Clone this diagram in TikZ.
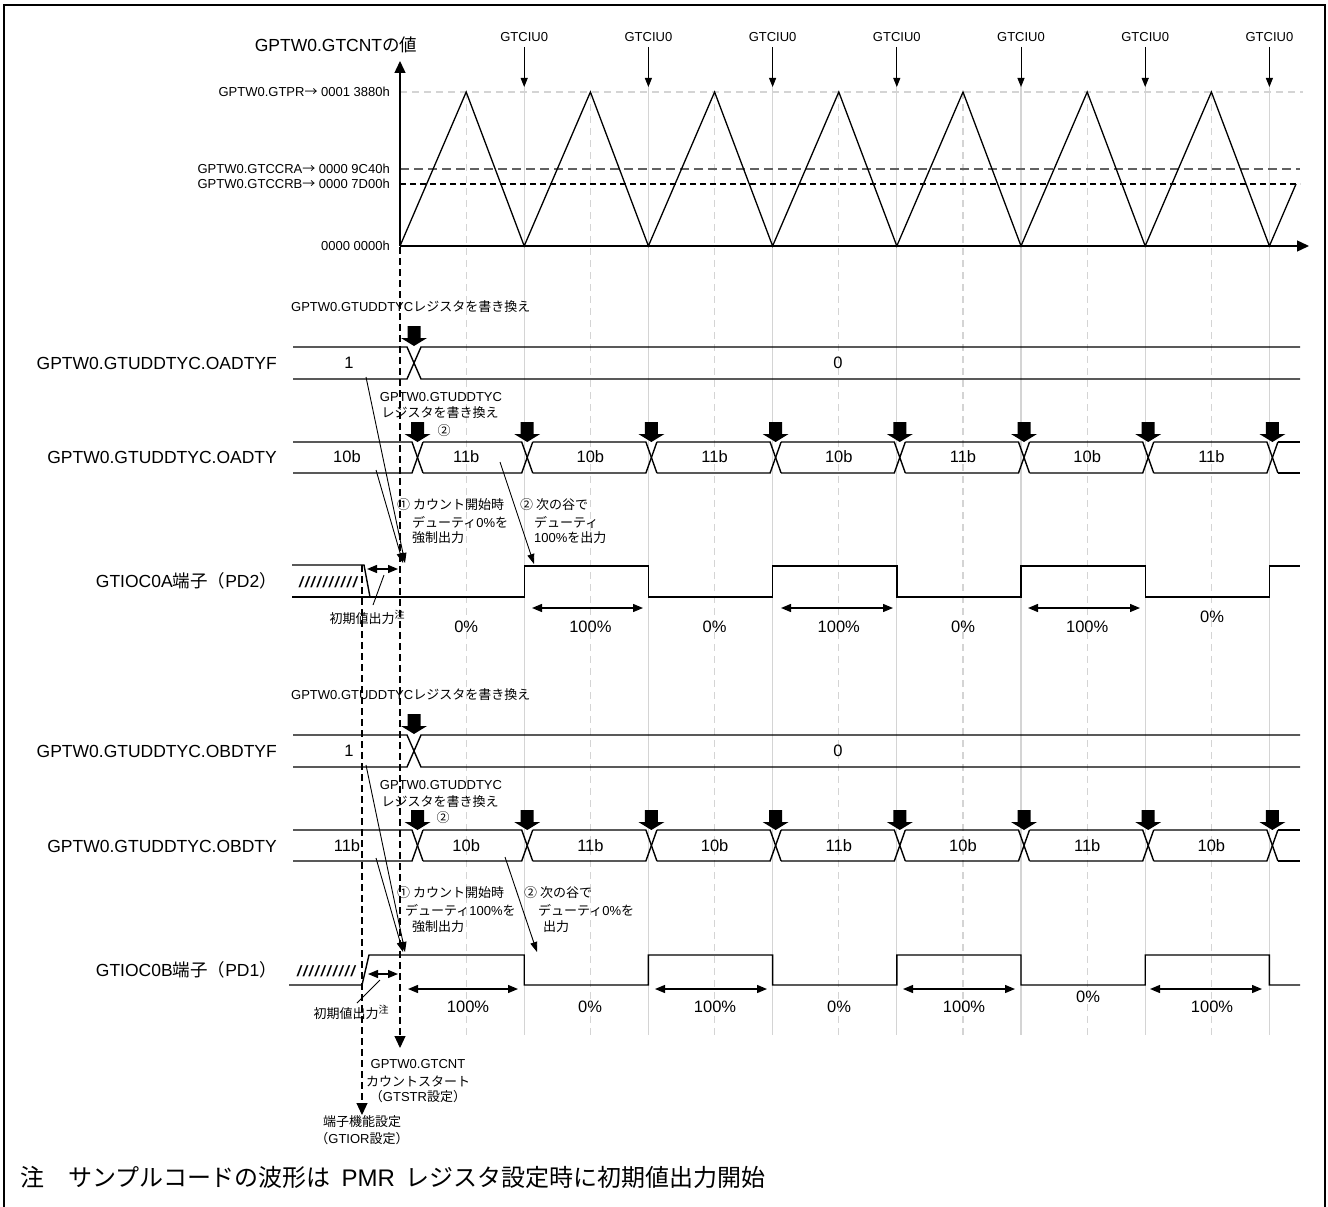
\documentclass[tikz,border=0pt]{standalone}
\usepackage{fontspec}
\setmainfont{Liberation Sans}
\newfontfamily\jpfont{Noto Sans CJK JP}
\newfontfamily\hatchfont[LetterSpace=12]{Liberation Sans}
\usetikzlibrary{arrows.meta}
\newcommand\J[1]{{\jpfont #1}}
\newcommand\fsz[1]{\fontsize{#1}{#1}\selectfont}
\tikzset{
  wave/.style={line width=1.4pt},
  tri/.style={line width=1.3pt},
  gridv/.style={line width=1.3pt, draw=black!17},
  gridd/.style={line width=1.3pt, draw=black!17, dash pattern=on 7pt off 5pt},
  bdash/.style={line width=1.1pt, dash pattern=on 7pt off 4pt},
  bigtip/.style={-{Triangle[length=12pt,width=11pt]}},
  ann/.style={line width=0.9pt, -{Triangle[length=10pt,width=7pt]}},
  leader/.style={line width=0.9pt},
  dbl/.style={line width=1.3pt, {Triangle[length=10pt,width=8pt]}-{Triangle[length=10pt,width=8pt]}},
  lbl/.style={inner sep=0pt, font=\fsz{13}},
  big/.style={inner sep=0pt, font=\fsz{17.5}},
  val/.style={inner sep=0pt, font=\fsz{16.5}},
  blk/.pic={\fill (0,0) -- (13,-8) -- (6.5,-8) -- (6.5,-20) -- (-6.5,-20) -- (-6.5,-8) -- (-13,-8) -- cycle;}
}
\newcommand\drawbus[4]{%
  \foreach \cx [remember=\cx as \px (initially 287.5)] in {#3} {
    \draw[wave] ({\px+5.5},#1) -- ({\cx-5.5},#1) -- ({\cx+5.5},#2);
    \draw[wave] ({\px+5.5},#2) -- ({\cx-5.5},#2) -- ({\cx+5.5},#1);
  }
  \draw[wave] ({#4+5.5},#1) -- (1300,#1);
  \draw[wave] ({#4+5.5},#2) -- (1300,#2);
}
\begin{document}
\begin{tikzpicture}[x=1pt,y=-1pt]
\useasboundingbox (0,0) rectangle (1328,1207);
\fill[white] (0,0) rectangle (1328,1207);
% frame
\draw[line width=2.5pt] (4,1207) -- (4,5) -- (1325,5) -- (1325,1207);

% light grid verticals
\foreach \i in {1,...,7} {
  \pgfmathsetmacro\vx{400+124.2*\i}
  \pgfmathsetmacro\pk{\vx-58}
  \draw[gridv] (\vx,86) -- (\vx,1035);
  \draw[gridd] (\pk,92) -- (\pk,1035);
}

% levels
\draw[gridd] (400,92) -- (1303,92);
\draw[line width=1.6pt, draw=black!62, dash pattern=on 9pt off 5pt] (400,169) -- (1300,169);
\draw[line width=1.1pt, dash pattern=on 6pt off 4pt] (400,184) -- (1300,184);

% counter triangle
\draw[tri] (400,246) -- (466.2,92) -- (524.2,246) -- (590.4,92) -- (648.4,246) -- (714.6,92) -- (772.6,246) -- (838.8,92) -- (896.8,246) -- (963,92) -- (1021,246) -- (1087.2,92) -- (1145.2,246) -- (1211.4,92) -- (1269.4,246) -- (1296,184);

% axes
\coordinate (O) at (400,246);
\coordinate (xend) at (1309,246);
\coordinate (yend) at (400,61);
\draw[line width=1.4pt, bigtip] (O) -- (xend);
\draw[line width=1.4pt, bigtip] (O) -- (yend);
\node[inner sep=0pt, font=\fsz{17.5}] (title) at (336,45) {GPTW0.GTCNT\J{の値}};

% GTCIU0 markers
\foreach \i in {1,...,7} {
  \pgfmathsetmacro\vx{400+124.2*\i}
  \node[lbl] (ciu\i) at (\vx,37) {GTCIU0};
  \coordinate (ct\i) at (\vx,87);
  \draw[line width=1pt, -{Triangle[length=9pt,width=7pt]}, shorten <=5pt] (ciu\i) -- (ct\i);
}

% level labels
\node[lbl, anchor=east] (lpr) at (390,92) {GPTW0.GTPR\J{→} 0001 3880h};
\node[lbl, anchor=east] (lca) at (390,169) {GPTW0.GTCCRA\J{→} 0000 9C40h};
\node[lbl, anchor=east] (lcb) at (390,184) {GPTW0.GTCCRB\J{→} 0000 7D00h};
\node[lbl, anchor=east] (lz) at (390,246) {0000 0000h};

% start / pin-setting dashed lines
\coordinate (cs0) at (400,247);
\coordinate (cs1) at (400,1048);
\coordinate (pn0) at (362,565);
\coordinate (pn1) at (362,1115);
\draw[bdash, bigtip] (cs0) -- (cs1);
\draw[bdash, bigtip] (pn0) -- (pn1);

% row labels
\node[big, anchor=east] (rOADTYF) at (277,363) {GPTW0.GTUDDTYC.OADTYF};
\node[big, anchor=east] (rOADTY) at (277,457) {GPTW0.GTUDDTYC.OADTY};
\node[big, anchor=east] (rGA) at (277,581) {GTIOC0A\J{端子（}PD2\J{）}};
\node[big, anchor=east] (rOBDTYF) at (277,751) {GPTW0.GTUDDTYC.OBDTYF};
\node[big, anchor=east] (rOBDTY) at (277,846) {GPTW0.GTUDDTYC.OBDTY};
\node[big, anchor=east] (rGB) at (277,970) {GTIOC0B\J{端子（}PD1\J{）}};

% write labels
\node[lbl, anchor=west] (wA) at (291,307) {GPTW0.GTUDDTYC\J{レジスタを書き換え}};
\node[lbl, anchor=west] (wB) at (291,695) {GPTW0.GTUDDTYC\J{レジスタを書き換え}};

% ---------- section A ----------
\draw[wave] (293,347) -- (407,347) -- (421,379) -- (1300,379);
\draw[wave] (293,379) -- (407,379) -- (421,347) -- (1300,347);
\pic (bA0) at (414,346) {blk};
\node[val] (vA1) at (349,363) {1};
\node[val] (vA0) at (838,363) {0};

\node[lbl] (mA1) at (441,397) {GPTW0.GTUDDTYC};
\node[lbl] (mA2) at (440,413) {\J{レジスタを書き換え}};
\node[lbl] (cA) at (444,431) {\J{②}};

\drawbus{442}{473}{417.5,527.2,651.4,775.6,899.8,1024,1148.2,1272.4}{1272.4}
\foreach \c [count=\k] in {417.5,527.2,651.4,775.6,899.8,1024,1148.2,1272.4} {\pic (bA\k) at (\c,442) {blk};}
\node[val] (dA0) at (347,457) {10b};
\foreach \c/\t [count=\k] in {466.2/11b,590.4/10b,714.6/11b,838.8/10b,963/11b,1087.2/10b,1211.4/11b} {\node[val] (dA\k) at (\c,457) {\t};}

\node[lbl, anchor=west] (nA1) at (397,505) {\J{① カウント開始時}};
\node[lbl, anchor=west] (nA2) at (412,522) {\J{デューティ}0\%\J{を}};
\node[lbl, anchor=west] (nA3) at (412,538) {\J{強制出力}};
\node[lbl, anchor=west] (nA4) at (520,505) {\J{② 次の谷で}};
\node[lbl, anchor=west] (nA5) at (534,522) {\J{デューティ}};
\node[lbl, anchor=west] (nA6) at (534,538) {100\%\J{を出力}};

\coordinate (a1s) at (366,377); \coordinate (a1e) at (405,563);
\coordinate (a2s) at (376,470); \coordinate (a2e) at (403,563);
\coordinate (a3s) at (500,462); \coordinate (a3e) at (534,564);
\draw[ann] (a1s) -- (a1e);
\draw[ann] (a2s) -- (a2e);
\draw[ann] (a3s) -- (a3e);

\draw[wave] (292,565) -- (364,565) -- (370,597);
\draw[wave] (292,597) -- (524.2,597) -- (524.2,566) -- (648.4,566) -- (648.4,597) -- (772.6,597) -- (772.6,566) -- (896.8,566) -- (896.8,597) -- (1021,597) -- (1021,566) -- (1145.2,566) -- (1145.2,597) -- (1269.4,597) -- (1269.4,566) -- (1300,566);
\node[inner sep=0pt, font=\fsz{15}\hatchfont\bfseries\itshape] (hA) at (328,582) {//////////};
\coordinate (iA0) at (367,569); \coordinate (iA1) at (398,569);
\draw[dbl] (iA0) -- (iA1);
\coordinate (lA0) at (384,575); \coordinate (lA1) at (373,605);
\draw[leader] (lA0) -- (lA1);
\node[lbl] (iniA) at (367,617) {\J{初期値出力}\raisebox{5pt}{\fsz{10}\J{注}}};

\foreach \a/\b [count=\k] in {532/643,781/893,1028/1140} {
  \coordinate (pA\k l) at (\a,608); \coordinate (pA\k r) at (\b,608);
  \draw[dbl] (pA\k l) -- (pA\k r);
}
\foreach \c/\t [count=\k] in {466.2/0,590.4/100,714.6/0,838.8/100,963/0,1087.2/100} {\node[val] (qA\k) at (\c,627) {\t\%};}
\node[val] (qA7) at (1212,617) {0\%};

% ---------- section B ----------
\draw[wave] (293,735) -- (407,735) -- (421,767) -- (1300,767);
\draw[wave] (293,767) -- (407,767) -- (421,735) -- (1300,735);
\pic (bB0) at (414,734) {blk};
\node[val] (vB1) at (349,751) {1};
\node[val] (vB0) at (838,751) {0};

\node[lbl] (mB1) at (441,785) {GPTW0.GTUDDTYC};
\node[lbl] (mB2) at (440,802) {\J{レジスタを書き換え}};
\node[lbl] (cB) at (443,818) {\J{②}};

\drawbus{830}{861}{417.5,527.2,651.4,775.6,899.8,1024,1148.2,1272.4}{1272.4}
\foreach \c [count=\k] in {417.5,527.2,651.4,775.6,899.8,1024,1148.2,1272.4} {\pic (bB\k) at (\c,830) {blk};}
\node[val] (dB0) at (347,846) {11b};
\foreach \c/\t [count=\k] in {466.2/10b,590.4/11b,714.6/10b,838.8/11b,963/10b,1087.2/11b,1211.4/10b} {\node[val] (dB\k) at (\c,846) {\t};}

\node[lbl, anchor=west] (nB1) at (397,893) {\J{① カウント開始時}};
\node[lbl, anchor=west] (nB2) at (405,910) {\J{デューティ}100\%\J{を}};
\node[lbl, anchor=west] (nB3) at (412,927) {\J{強制出力}};
\node[lbl, anchor=west] (nB4) at (524,893) {\J{② 次の谷で}};
\node[lbl, anchor=west] (nB5) at (538,910) {\J{デューティ}0\%\J{を}};
\node[lbl, anchor=west] (nB6) at (543,927) {\J{出力}};

\coordinate (b1s) at (366,765); \coordinate (b1e) at (405,952);
\coordinate (b2s) at (376,858); \coordinate (b2e) at (403,952);
\coordinate (b3s) at (505,857); \coordinate (b3e) at (537,952);
\draw[ann] (b1s) -- (b1e);
\draw[ann] (b2s) -- (b2e);
\draw[ann] (b3s) -- (b3e);

\draw[wave] (289,985) -- (362,985) -- (369,955) -- (524.2,955) -- (524.2,985) -- (648.4,985) -- (648.4,955) -- (772.6,955) -- (772.6,985) -- (896.8,985) -- (896.8,955) -- (1021,955) -- (1021,985) -- (1145.2,985) -- (1145.2,955) -- (1269.4,955) -- (1269.4,985) -- (1300,985);
\node[inner sep=0pt, font=\fsz{15}\hatchfont\bfseries\itshape] (hB) at (326,971) {//////////};
\coordinate (iB0) at (368,974); \coordinate (iB1) at (398,974);
\draw[dbl] (iB0) -- (iB1);
\coordinate (lB0) at (380,980); \coordinate (lB1) at (357,1003);
\draw[leader] (lB0) -- (lB1);
\node[lbl] (iniB) at (351,1012) {\J{初期値出力}\raisebox{5pt}{\fsz{10}\J{注}}};

\foreach \a/\b [count=\k] in {408/518,655/767,903/1015,1150/1262} {
  \coordinate (pB\k l) at (\a,989); \coordinate (pB\k r) at (\b,989);
  \draw[dbl] (pB\k l) -- (pB\k r);
}
\foreach \c/\t [count=\k] in {468/100,590/0,715/100,839/0,964/100,1212/100} {\node[val] (qB\k) at (\c,1007) {\t\%};}
\node[val] (qB7) at (1088,997) {0\%};

% ---------- bottom labels ----------
\node[lbl] (g1) at (418,1064) {GPTW0.GTCNT};
\node[lbl] (g2) at (418,1081) {\J{カウントスタート}};
\node[lbl] (g3) at (418,1097) {\J{（}GTSTR\J{設定）}};
\node[lbl] (h1) at (362,1122) {\J{端子機能設定}};
\node[lbl] (h2) at (362,1139) {\J{（}GTIOR\J{設定）}};

\node[inner sep=0pt, anchor=west, font=\fsz{24}] (note) at (20,1177) {\J{注　サンプルコードの波形は}\hspace{4pt} PMR \hspace{4pt}\J{レジスタ設定時に初期値出力開始}};
\end{tikzpicture}
\end{document}
